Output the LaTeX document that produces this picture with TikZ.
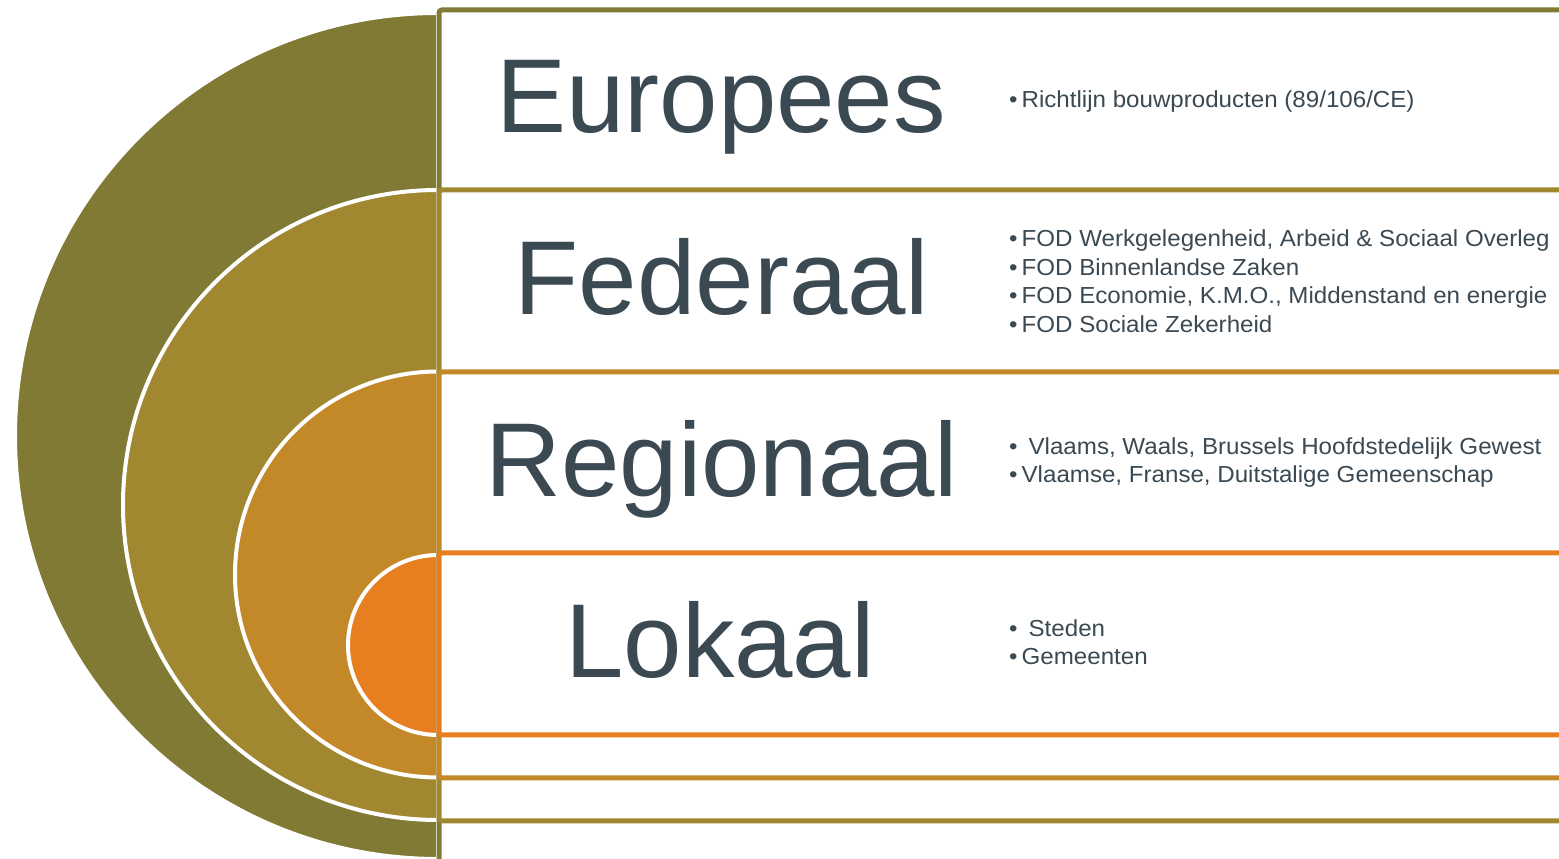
\documentclass[tikz,border=0pt]{standalone}
\usepackage{fontspec}
\setmainfont{Liberation Sans}
\newfontfamily\itemfont[FakeStretch=1.04]{Liberation Sans}
\definecolor{cEur}{RGB}{129,122,52}
\definecolor{cFed}{RGB}{161,135,48}
\definecolor{cReg}{RGB}{195,136,39}
\definecolor{cLok}{RGB}{231,126,31}
\definecolor{cTxt}{RGB}{59,73,83}
\tikzset{
  halfdisc/.style={draw=white, line width=4pt},
  band/.style={fill=white, line width=5pt, rounded corners=3pt},
  bigtitle/.style={anchor=base, inner sep=0pt, text=cTxt, font=\fontsize{105}{120}\selectfont},
  item/.style={anchor=base west, inner sep=0pt, text=cTxt, font=\itemfont\fontsize{23.2}{28}\selectfont}
}
\newcommand{\bl}{•\hspace{4pt}}
\newcommand{\blw}{•\hspace{11pt}}
\begin{document}
\begin{tikzpicture}[x=1pt,y=1pt]
\useasboundingbox (0,0) rectangle (1559,859);
\clip (0,0) rectangle (1559,859);
% half discs
\fill[cEur, halfdisc] (438,846) arc[start angle=90, end angle=270, radius=423] -- cycle;
\fill[cFed, halfdisc] (438,669) arc[start angle=90, end angle=270, radius=315] -- cycle;
\fill[cReg, halfdisc] (438,487.5) arc[start angle=90, end angle=270, radius=203] -- cycle;
\fill[cLok, halfdisc] (438,304) arc[start angle=90, end angle=270, radius=90] -- cycle;
% bands
\draw[band, draw=cEur] (439,-20) rectangle (1580,849);
\draw[band, draw=cFed] (439,38) rectangle (1580,669);
\draw[band, draw=cReg] (439,81) rectangle (1580,487);
\draw[band, draw=cLok] (439,124) rectangle (1580,306);
% titles
\node[bigtitle] (eur) at (721,726) {Europees};
\node[bigtitle] (fed) at (722,544) {Federaal};
\node[bigtitle] (reg) at (722,362) {Regionaal};
\node[bigtitle] (lok) at (720,181) {Lokaal};
% items
\node[item] (e1) at (1009,751) {\bl Richtlijn bouwproducten (89/106/CE)};
\node[item] (f1) at (1009,612) {\bl FOD Werkgelegenheid, Arbeid \& Sociaal Overleg};
\node[item] (f2) at (1009,583.5) {\bl FOD Binnenlandse Zaken};
\node[item] (f3) at (1009,555) {\bl FOD Economie, K.M.O., Middenstand en energie};
\node[item] (f4) at (1009,526.5) {\bl FOD Sociale Zekerheid};
\node[item] (r1) at (1009,404) {\blw Vlaams, Waals, Brussels Hoofdstedelijk Gewest};
\node[item] (r2) at (1009,376) {\bl Vlaamse, Franse, Duitstalige Gemeenschap};
\node[item] (l1) at (1009,222) {\blw Steden};
\node[item] (l2) at (1009,194) {\bl Gemeenten};
\end{tikzpicture}
\end{document}
